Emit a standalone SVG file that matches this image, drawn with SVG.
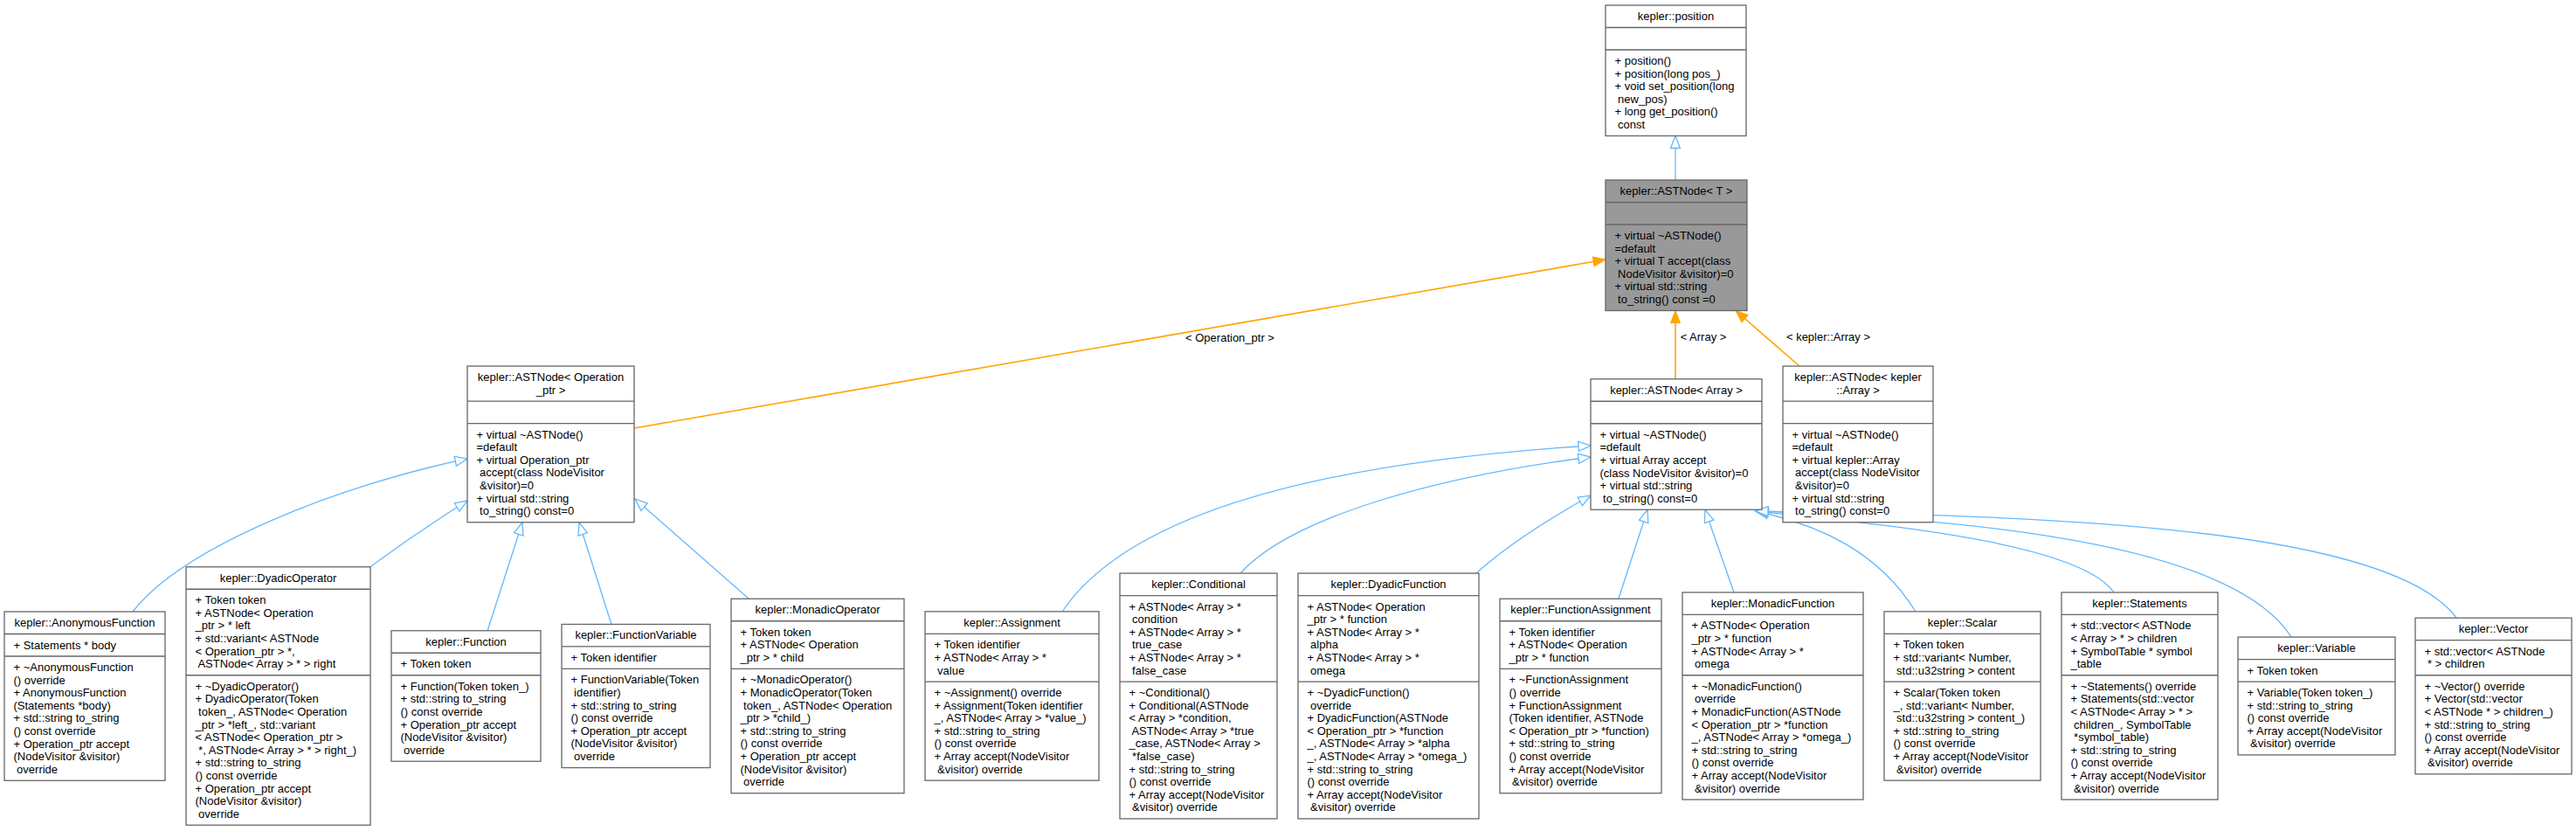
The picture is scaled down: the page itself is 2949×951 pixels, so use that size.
<svg xmlns="http://www.w3.org/2000/svg" width="2949" height="951" viewBox="0 0 2949 951" xml:space="preserve">
<style>
.b{fill:#fff;stroke:#666;stroke-width:1.3}
.g{fill:#999;stroke:#666;stroke-width:1.3}
.s{fill:none;stroke:#666;stroke-width:1.3}
text{font-family:"Liberation Sans",Arial,Helvetica,sans-serif;font-size:13px;fill:#000}
.c{text-anchor:middle}
.inh{fill:none;stroke:#63b8ff;stroke-width:1.3}
.tpl{fill:none;stroke:#ffa500;stroke-width:1.6}
</style>
<defs>
<marker id="mi" markerUnits="userSpaceOnUse" markerWidth="20" markerHeight="14" refX="15" refY="7" orient="auto" overflow="visible"><path d="M1,1.5 L15,7 L1,12.5 Z" fill="#fff" stroke="#63b8ff" stroke-width="1.3"/></marker>
<marker id="mt" markerUnits="userSpaceOnUse" markerWidth="16" markerHeight="12" refX="14" refY="6" orient="auto" overflow="visible"><path d="M0,0.5 L14,6 L0,11.5 Z" fill="#ffa500" stroke="#ffa500" stroke-width="1"/></marker>
</defs>
<rect width="2949" height="951" fill="#fff"/>
<g id="connectors">
<path class="inh" marker-end="url(#mi)" d="M1918,206 L1918,155.5"/>
<path class="inh" marker-end="url(#mi)" d="M152,700 C210,625 390,555 535,525"/>
<path class="inh" marker-end="url(#mi)" d="M422,650 C460,622 500,595 535,573"/>
<path class="inh" marker-end="url(#mi)" d="M558,722 L598,598"/>
<path class="inh" marker-end="url(#mi)" d="M700,714.5 L663,598"/>
<path class="inh" marker-end="url(#mi)" d="M857,685 L727,571"/>
<path class="inh" marker-end="url(#mi)" d="M1216,700 C1290,590 1500,530 1821,510"/>
<path class="inh" marker-end="url(#mi)" d="M1420,656 C1480,590 1650,545 1821,523"/>
<path class="inh" marker-end="url(#mi)" d="M1690,656 C1730,620 1780,590 1821,567"/>
<path class="inh" marker-end="url(#mi)" d="M1853,685 L1886,583.5"/>
<path class="inh" marker-end="url(#mi)" d="M1985,678 L1952,583.5"/>
<path class="inh" marker-end="url(#mi)" d="M2193,700 C2150,630 2080,600 2010,585"/>
<path class="inh" marker-end="url(#mi)" d="M2420,678 C2380,620 2150,600 2010,585"/>
<path class="inh" marker-end="url(#mi)" d="M2623,729 C2560,630 2300,595 2010,585"/>
<path class="inh" marker-end="url(#mi)" d="M2812,707 C2740,610 2400,590 2010,585"/>
<path class="tpl" marker-end="url(#mt)" d="M726,490 L1838,297"/>
<path class="tpl" marker-end="url(#mt)" d="M1918,434 L1918,355.5"/>
<path class="tpl" marker-end="url(#mt)" d="M2060,419 L1987,355.5"/>
<text class="c" x="1408" y="391">&lt; Operation_ptr &gt;</text>
<text class="c" x="1950" y="390">&lt; Array &gt;</text>
<text class="c" x="2093" y="390">&lt; kepler::Array &gt;</text>
</g>
<g id="position" transform="translate(1838,6)">
<rect class="b" width="161" height="149.5"/>
<path class="s" d="M0,25.5H161M0,51H161"/>
<text class="c" x="80.5" y="17">kepler::position</text>
<text y="68"><tspan x="10.5">+ position()</tspan><tspan x="10.5" dy="14.6">+ position(long pos_)</tspan><tspan x="10.5" dy="14.6">+ void set_position(long</tspan><tspan x="10.5" dy="14.6"> new_pos)</tspan><tspan x="10.5" dy="14.6">+ long get_position()</tspan><tspan x="10.5" dy="14.6"> const</tspan></text>
</g>
<g id="ASTNode_T" transform="translate(1838,206)">
<rect class="g" width="162" height="149.5"/>
<path class="s" d="M0,25.5H162M0,51H162"/>
<text class="c" x="81" y="17">kepler::ASTNode&lt; T &gt;</text>
<text y="68"><tspan x="10.5">+ virtual ~ASTNode()</tspan><tspan x="10.5" dy="14.6">=default</tspan><tspan x="10.5" dy="14.6">+ virtual T accept(class</tspan><tspan x="10.5" dy="14.6"> NodeVisitor &amp;visitor)=0</tspan><tspan x="10.5" dy="14.6">+ virtual std::string</tspan><tspan x="10.5" dy="14.6"> to_string() const =0</tspan></text>
</g>
<g id="ASTNode_Operation_ptr" transform="translate(535,419)">
<rect class="b" width="191" height="178.7"/>
<path class="s" d="M0,40.1H191M0,65.6H191"/>
<text class="c" y="17"><tspan x="95.5">kepler::ASTNode&lt; Operation</tspan><tspan x="95.5" dy="14.6">_ptr &gt;</tspan></text>
<text y="82.6"><tspan x="10.5">+ virtual ~ASTNode()</tspan><tspan x="10.5" dy="14.6">=default</tspan><tspan x="10.5" dy="14.6">+ virtual Operation_ptr</tspan><tspan x="10.5" dy="14.6"> accept(class NodeVisitor</tspan><tspan x="10.5" dy="14.6"> &amp;visitor)=0</tspan><tspan x="10.5" dy="14.6">+ virtual std::string</tspan><tspan x="10.5" dy="14.6"> to_string() const=0</tspan></text>
</g>
<g id="ASTNode_Array" transform="translate(1821,433.75)">
<rect class="b" width="196" height="149.5"/>
<path class="s" d="M0,25.5H196M0,51H196"/>
<text class="c" x="98" y="17">kepler::ASTNode&lt; Array &gt;</text>
<text y="68"><tspan x="10.5">+ virtual ~ASTNode()</tspan><tspan x="10.5" dy="14.6">=default</tspan><tspan x="10.5" dy="14.6">+ virtual Array accept</tspan><tspan x="10.5" dy="14.6">(class NodeVisitor &amp;visitor)=0</tspan><tspan x="10.5" dy="14.6">+ virtual std::string</tspan><tspan x="10.5" dy="14.6"> to_string() const=0</tspan></text>
</g>
<g id="ASTNode_kepler_Array" transform="translate(2041,419)">
<rect class="b" width="172" height="178.7"/>
<path class="s" d="M0,40.1H172M0,65.6H172"/>
<text class="c" y="17"><tspan x="86">kepler::ASTNode&lt; kepler</tspan><tspan x="86" dy="14.6">::Array &gt;</tspan></text>
<text y="82.6"><tspan x="10.5">+ virtual ~ASTNode()</tspan><tspan x="10.5" dy="14.6">=default</tspan><tspan x="10.5" dy="14.6">+ virtual kepler::Array</tspan><tspan x="10.5" dy="14.6"> accept(class NodeVisitor</tspan><tspan x="10.5" dy="14.6"> &amp;visitor)=0</tspan><tspan x="10.5" dy="14.6">+ virtual std::string</tspan><tspan x="10.5" dy="14.6"> to_string() const=0</tspan></text>
</g>
<g id="AnonymousFunction" transform="translate(5,700)">
<rect class="b" width="184" height="193.3"/>
<path class="s" d="M0,25.5H184M0,51H184"/>
<text class="c" x="92" y="17">kepler::AnonymousFunction</text>
<text x="10.5" y="42.5">+ Statements * body</text>
<text y="68"><tspan x="10.5">+ ~AnonymousFunction</tspan><tspan x="10.5" dy="14.6">() override</tspan><tspan x="10.5" dy="14.6">+ AnonymousFunction</tspan><tspan x="10.5" dy="14.6">(Statements *body)</tspan><tspan x="10.5" dy="14.6">+ std::string to_string</tspan><tspan x="10.5" dy="14.6">() const override</tspan><tspan x="10.5" dy="14.6">+ Operation_ptr accept</tspan><tspan x="10.5" dy="14.6">(NodeVisitor &amp;visitor)</tspan><tspan x="10.5" dy="14.6"> override</tspan></text>
</g>
<g id="DyadicOperator" transform="translate(213,648.75)">
<rect class="b" width="211" height="295.5"/>
<path class="s" d="M0,25.5H211M0,124H211"/>
<text class="c" x="105.5" y="17">kepler::DyadicOperator</text>
<text y="42.5"><tspan x="10.5">+ Token token</tspan><tspan x="10.5" dy="14.6">+ ASTNode&lt; Operation</tspan><tspan x="10.5" dy="14.6">_ptr &gt; * left</tspan><tspan x="10.5" dy="14.6">+ std::variant&lt; ASTNode</tspan><tspan x="10.5" dy="14.6">&lt; Operation_ptr &gt; *,</tspan><tspan x="10.5" dy="14.6"> ASTNode&lt; Array &gt; * &gt; right</tspan></text>
<text y="141"><tspan x="10.5">+ ~DyadicOperator()</tspan><tspan x="10.5" dy="14.6">+ DyadicOperator(Token</tspan><tspan x="10.5" dy="14.6"> token_, ASTNode&lt; Operation</tspan><tspan x="10.5" dy="14.6">_ptr &gt; *left_, std::variant</tspan><tspan x="10.5" dy="14.6">&lt; ASTNode&lt; Operation_ptr &gt;</tspan><tspan x="10.5" dy="14.6"> *, ASTNode&lt; Array &gt; * &gt; right_)</tspan><tspan x="10.5" dy="14.6">+ std::string to_string</tspan><tspan x="10.5" dy="14.6">() const override</tspan><tspan x="10.5" dy="14.6">+ Operation_ptr accept</tspan><tspan x="10.5" dy="14.6">(NodeVisitor &amp;visitor)</tspan><tspan x="10.5" dy="14.6"> override</tspan></text>
</g>
<g id="Function" transform="translate(448,721.75)">
<rect class="b" width="171" height="149.5"/>
<path class="s" d="M0,25.5H171M0,51H171"/>
<text class="c" x="85.5" y="17">kepler::Function</text>
<text x="10.5" y="42.5">+ Token token</text>
<text y="68"><tspan x="10.5">+ Function(Token token_)</tspan><tspan x="10.5" dy="14.6">+ std::string to_string</tspan><tspan x="10.5" dy="14.6">() const override</tspan><tspan x="10.5" dy="14.6">+ Operation_ptr accept</tspan><tspan x="10.5" dy="14.6">(NodeVisitor &amp;visitor)</tspan><tspan x="10.5" dy="14.6"> override</tspan></text>
</g>
<g id="FunctionVariable" transform="translate(643,714.45)">
<rect class="b" width="170" height="164.1"/>
<path class="s" d="M0,25.5H170M0,51H170"/>
<text class="c" x="85" y="17">kepler::FunctionVariable</text>
<text x="10.5" y="42.5">+ Token identifier</text>
<text y="68"><tspan x="10.5">+ FunctionVariable(Token</tspan><tspan x="10.5" dy="14.6"> identifier)</tspan><tspan x="10.5" dy="14.6">+ std::string to_string</tspan><tspan x="10.5" dy="14.6">() const override</tspan><tspan x="10.5" dy="14.6">+ Operation_ptr accept</tspan><tspan x="10.5" dy="14.6">(NodeVisitor &amp;visitor)</tspan><tspan x="10.5" dy="14.6"> override</tspan></text>
</g>
<g id="MonadicOperator" transform="translate(837,685.25)">
<rect class="b" width="198" height="222.5"/>
<path class="s" d="M0,25.5H198M0,80.2H198"/>
<text class="c" x="99" y="17">kepler::MonadicOperator</text>
<text y="42.5"><tspan x="10.5">+ Token token</tspan><tspan x="10.5" dy="14.6">+ ASTNode&lt; Operation</tspan><tspan x="10.5" dy="14.6">_ptr &gt; * child</tspan></text>
<text y="97.2"><tspan x="10.5">+ ~MonadicOperator()</tspan><tspan x="10.5" dy="14.6">+ MonadicOperator(Token</tspan><tspan x="10.5" dy="14.6"> token_, ASTNode&lt; Operation</tspan><tspan x="10.5" dy="14.6">_ptr &gt; *child_)</tspan><tspan x="10.5" dy="14.6">+ std::string to_string</tspan><tspan x="10.5" dy="14.6">() const override</tspan><tspan x="10.5" dy="14.6">+ Operation_ptr accept</tspan><tspan x="10.5" dy="14.6">(NodeVisitor &amp;visitor)</tspan><tspan x="10.5" dy="14.6"> override</tspan></text>
</g>
<g id="Assignment" transform="translate(1059,699.85)">
<rect class="b" width="199" height="193.3"/>
<path class="s" d="M0,25.5H199M0,80.2H199"/>
<text class="c" x="99.5" y="17">kepler::Assignment</text>
<text y="42.5"><tspan x="10.5">+ Token identifier</tspan><tspan x="10.5" dy="14.6">+ ASTNode&lt; Array &gt; *</tspan><tspan x="10.5" dy="14.6"> value</tspan></text>
<text y="97.2"><tspan x="10.5">+ ~Assignment() override</tspan><tspan x="10.5" dy="14.6">+ Assignment(Token identifier</tspan><tspan x="10.5" dy="14.6">_, ASTNode&lt; Array &gt; *value_)</tspan><tspan x="10.5" dy="14.6">+ std::string to_string</tspan><tspan x="10.5" dy="14.6">() const override</tspan><tspan x="10.5" dy="14.6">+ Array accept(NodeVisitor</tspan><tspan x="10.5" dy="14.6"> &amp;visitor) override</tspan></text>
</g>
<g id="Conditional" transform="translate(1282,656.05)">
<rect class="b" width="180" height="280.9"/>
<path class="s" d="M0,25.5H180M0,124H180"/>
<text class="c" x="90" y="17">kepler::Conditional</text>
<text y="42.5"><tspan x="10.5">+ ASTNode&lt; Array &gt; *</tspan><tspan x="10.5" dy="14.6"> condition</tspan><tspan x="10.5" dy="14.6">+ ASTNode&lt; Array &gt; *</tspan><tspan x="10.5" dy="14.6"> true_case</tspan><tspan x="10.5" dy="14.6">+ ASTNode&lt; Array &gt; *</tspan><tspan x="10.5" dy="14.6"> false_case</tspan></text>
<text y="141"><tspan x="10.5">+ ~Conditional()</tspan><tspan x="10.5" dy="14.6">+ Conditional(ASTNode</tspan><tspan x="10.5" dy="14.6">&lt; Array &gt; *condition,</tspan><tspan x="10.5" dy="14.6"> ASTNode&lt; Array &gt; *true</tspan><tspan x="10.5" dy="14.6">_case, ASTNode&lt; Array &gt;</tspan><tspan x="10.5" dy="14.6"> *false_case)</tspan><tspan x="10.5" dy="14.6">+ std::string to_string</tspan><tspan x="10.5" dy="14.6">() const override</tspan><tspan x="10.5" dy="14.6">+ Array accept(NodeVisitor</tspan><tspan x="10.5" dy="14.6"> &amp;visitor) override</tspan></text>
</g>
<g id="DyadicFunction" transform="translate(1486,656.05)">
<rect class="b" width="207" height="280.9"/>
<path class="s" d="M0,25.5H207M0,124H207"/>
<text class="c" x="103.5" y="17">kepler::DyadicFunction</text>
<text y="42.5"><tspan x="10.5">+ ASTNode&lt; Operation</tspan><tspan x="10.5" dy="14.6">_ptr &gt; * function</tspan><tspan x="10.5" dy="14.6">+ ASTNode&lt; Array &gt; *</tspan><tspan x="10.5" dy="14.6"> alpha</tspan><tspan x="10.5" dy="14.6">+ ASTNode&lt; Array &gt; *</tspan><tspan x="10.5" dy="14.6"> omega</tspan></text>
<text y="141"><tspan x="10.5">+ ~DyadicFunction()</tspan><tspan x="10.5" dy="14.6"> override</tspan><tspan x="10.5" dy="14.6">+ DyadicFunction(ASTNode</tspan><tspan x="10.5" dy="14.6">&lt; Operation_ptr &gt; *function</tspan><tspan x="10.5" dy="14.6">_, ASTNode&lt; Array &gt; *alpha</tspan><tspan x="10.5" dy="14.6">_, ASTNode&lt; Array &gt; *omega_)</tspan><tspan x="10.5" dy="14.6">+ std::string to_string</tspan><tspan x="10.5" dy="14.6">() const override</tspan><tspan x="10.5" dy="14.6">+ Array accept(NodeVisitor</tspan><tspan x="10.5" dy="14.6"> &amp;visitor) override</tspan></text>
</g>
<g id="FunctionAssignment" transform="translate(1717,685.25)">
<rect class="b" width="185" height="222.5"/>
<path class="s" d="M0,25.5H185M0,80.2H185"/>
<text class="c" x="92.5" y="17">kepler::FunctionAssignment</text>
<text y="42.5"><tspan x="10.5">+ Token identifier</tspan><tspan x="10.5" dy="14.6">+ ASTNode&lt; Operation</tspan><tspan x="10.5" dy="14.6">_ptr &gt; * function</tspan></text>
<text y="97.2"><tspan x="10.5">+ ~FunctionAssignment</tspan><tspan x="10.5" dy="14.6">() override</tspan><tspan x="10.5" dy="14.6">+ FunctionAssignment</tspan><tspan x="10.5" dy="14.6">(Token identifier, ASTNode</tspan><tspan x="10.5" dy="14.6">&lt; Operation_ptr &gt; *function)</tspan><tspan x="10.5" dy="14.6">+ std::string to_string</tspan><tspan x="10.5" dy="14.6">() const override</tspan><tspan x="10.5" dy="14.6">+ Array accept(NodeVisitor</tspan><tspan x="10.5" dy="14.6"> &amp;visitor) override</tspan></text>
</g>
<g id="MonadicFunction" transform="translate(1926,677.95)">
<rect class="b" width="207" height="237.1"/>
<path class="s" d="M0,25.5H207M0,94.8H207"/>
<text class="c" x="103.5" y="17">kepler::MonadicFunction</text>
<text y="42.5"><tspan x="10.5">+ ASTNode&lt; Operation</tspan><tspan x="10.5" dy="14.6">_ptr &gt; * function</tspan><tspan x="10.5" dy="14.6">+ ASTNode&lt; Array &gt; *</tspan><tspan x="10.5" dy="14.6"> omega</tspan></text>
<text y="111.8"><tspan x="10.5">+ ~MonadicFunction()</tspan><tspan x="10.5" dy="14.6"> override</tspan><tspan x="10.5" dy="14.6">+ MonadicFunction(ASTNode</tspan><tspan x="10.5" dy="14.6">&lt; Operation_ptr &gt; *function</tspan><tspan x="10.5" dy="14.6">_, ASTNode&lt; Array &gt; *omega_)</tspan><tspan x="10.5" dy="14.6">+ std::string to_string</tspan><tspan x="10.5" dy="14.6">() const override</tspan><tspan x="10.5" dy="14.6">+ Array accept(NodeVisitor</tspan><tspan x="10.5" dy="14.6"> &amp;visitor) override</tspan></text>
</g>
<g id="Scalar" transform="translate(2157,699.85)">
<rect class="b" width="179" height="193.3"/>
<path class="s" d="M0,25.5H179M0,80.2H179"/>
<text class="c" x="89.5" y="17">kepler::Scalar</text>
<text y="42.5"><tspan x="10.5">+ Token token</tspan><tspan x="10.5" dy="14.6">+ std::variant&lt; Number,</tspan><tspan x="10.5" dy="14.6"> std::u32string &gt; content</tspan></text>
<text y="97.2"><tspan x="10.5">+ Scalar(Token token</tspan><tspan x="10.5" dy="14.6">_, std::variant&lt; Number,</tspan><tspan x="10.5" dy="14.6"> std::u32string &gt; content_)</tspan><tspan x="10.5" dy="14.6">+ std::string to_string</tspan><tspan x="10.5" dy="14.6">() const override</tspan><tspan x="10.5" dy="14.6">+ Array accept(NodeVisitor</tspan><tspan x="10.5" dy="14.6"> &amp;visitor) override</tspan></text>
</g>
<g id="Statements" transform="translate(2360,677.95)">
<rect class="b" width="179" height="237.1"/>
<path class="s" d="M0,25.5H179M0,94.8H179"/>
<text class="c" x="89.5" y="17">kepler::Statements</text>
<text y="42.5"><tspan x="10.5">+ std::vector&lt; ASTNode</tspan><tspan x="10.5" dy="14.6">&lt; Array &gt; * &gt; children</tspan><tspan x="10.5" dy="14.6">+ SymbolTable * symbol</tspan><tspan x="10.5" dy="14.6">_table</tspan></text>
<text y="111.8"><tspan x="10.5">+ ~Statements() override</tspan><tspan x="10.5" dy="14.6">+ Statements(std::vector</tspan><tspan x="10.5" dy="14.6">&lt; ASTNode&lt; Array &gt; * &gt;</tspan><tspan x="10.5" dy="14.6"> children_, SymbolTable</tspan><tspan x="10.5" dy="14.6"> *symbol_table)</tspan><tspan x="10.5" dy="14.6">+ std::string to_string</tspan><tspan x="10.5" dy="14.6">() const override</tspan><tspan x="10.5" dy="14.6">+ Array accept(NodeVisitor</tspan><tspan x="10.5" dy="14.6"> &amp;visitor) override</tspan></text>
</g>
<g id="Variable" transform="translate(2562,729.05)">
<rect class="b" width="180" height="134.9"/>
<path class="s" d="M0,25.5H180M0,51H180"/>
<text class="c" x="90" y="17">kepler::Variable</text>
<text x="10.5" y="42.5">+ Token token</text>
<text y="68"><tspan x="10.5">+ Variable(Token token_)</tspan><tspan x="10.5" dy="14.6">+ std::string to_string</tspan><tspan x="10.5" dy="14.6">() const override</tspan><tspan x="10.5" dy="14.6">+ Array accept(NodeVisitor</tspan><tspan x="10.5" dy="14.6"> &amp;visitor) override</tspan></text>
</g>
<g id="Vector" transform="translate(2765,707.15)">
<rect class="b" width="179" height="178.7"/>
<path class="s" d="M0,25.5H179M0,65.6H179"/>
<text class="c" x="89.5" y="17">kepler::Vector</text>
<text y="42.5"><tspan x="10.5">+ std::vector&lt; ASTNode</tspan><tspan x="10.5" dy="14.6"> * &gt; children</tspan></text>
<text y="82.6"><tspan x="10.5">+ ~Vector() override</tspan><tspan x="10.5" dy="14.6">+ Vector(std::vector</tspan><tspan x="10.5" dy="14.6">&lt; ASTNode * &gt; children_)</tspan><tspan x="10.5" dy="14.6">+ std::string to_string</tspan><tspan x="10.5" dy="14.6">() const override</tspan><tspan x="10.5" dy="14.6">+ Array accept(NodeVisitor</tspan><tspan x="10.5" dy="14.6"> &amp;visitor) override</tspan></text>
</g>
</svg>
